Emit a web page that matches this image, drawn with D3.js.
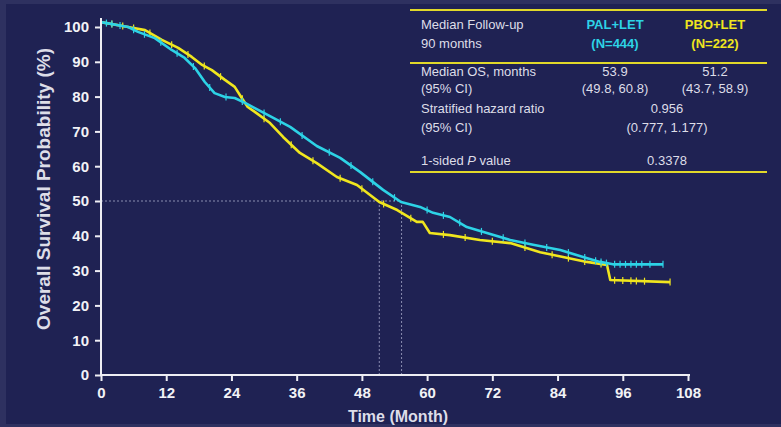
<!DOCTYPE html>
<html>
<head>
<meta charset="utf-8">
<script src="https://cdn.jsdelivr.net/npm/d3@7"></script>
<style>
  body { margin: 0; background: #2e3160; }
  svg { display: block; font-family: "Liberation Sans", Arial, sans-serif; }
</style>
</head>
<body>
<svg id="km" width="781" height="427"></svg>
<script>
// Kaplan-Meier curves: [month, survival %]
const palLet = [
  [0, 101.4], [5.0, 100.0], [6.8, 98.6], [9.9, 96.8], [13.0, 93.4], [15.4, 91.1],
  [17.3, 88.2], [19.1, 84.2], [20.9, 81.0], [22.8, 79.9], [24.6, 79.6], [26.5, 78.2],
  [28.3, 76.7], [31.1, 74.4], [34.8, 71.3], [39.7, 65.8], [44.0, 62.4], [47.7, 58.3],
  [51.9, 53.2], [55.2, 49.7], [58.7, 48.3], [61.1, 46.6], [64.2, 45.4], [67.3, 42.5],
  [71.0, 40.8], [75.3, 38.8], [79.5, 37.4], [84.5, 35.9], [88.7, 33.9], [91.8, 32.5],
  [94.2, 31.8], [103.4, 31.8]
];
const pboLet = [
  [0, 101.4], [5.0, 100.0], [8.1, 99.1], [11.2, 96.3], [14.2, 94.0], [16.7, 91.4],
  [18.6, 89.1], [20.4, 87.6], [22.8, 84.8], [24.6, 82.8], [25.9, 79.6], [27.0, 77.0],
  [28.3, 75.6], [31.1, 72.4], [33.5, 68.4], [36.6, 63.8], [39.7, 60.9], [43.4, 56.9],
  [47.1, 54.6], [51.2, 49.7], [54.5, 47.4], [58.1, 44.0], [59.2, 44.0], [60.5, 40.8],
  [64.2, 40.2], [69.7, 38.8], [75.3, 37.9], [80.8, 35.3], [85.0, 33.9], [89.4, 32.5],
  [93.1, 31.6], [93.7, 27.3], [104.7, 26.7]
];

// censored observations (months)
const palCensor = [1, 2, 3.5, 6, 8, 11, 14, 17, 20, 23, 26, 30, 33, 37, 42, 46, 50, 54,
  60, 63, 66, 70, 74, 78, 82, 86, 89, 91, 92, 93, 94.5, 95.5, 96.5, 97.5, 98.5, 99.5, 101, 103.4];
const pboCensor = [2, 4, 6, 9, 13, 16, 19, 22, 26, 30, 35, 39, 44, 48, 52, 57, 63, 67, 72,
  78, 83, 86, 89, 92, 94.5, 96, 97.5, 98.5, 100, 104.7];

const medians = [51.2, 55.3];

const xTicks = [0, 12, 24, 36, 48, 60, 72, 84, 96, 108];
const yTicks = [0, 10, 20, 30, 40, 50, 60, 70, 80, 90, 100];

// table contents
const tableHead = ["Median Follow-up", "90 months"];
const groups = ["PAL+LET", "PBO+LET"];
const groupN = ["(N=444)", "(N=222)"];
const medianOS = ["53.9", "51.2"];
const medianCI = ["(49.8, 60.8)", "(43.7, 58.9)"];
const hazard = ["0.956", "(0.777, 1.177)"];
const pValue = "0.3378";

const cyan = "#2dd3e6", yellow = "#f0e61e", ink = "#dddde8";

const svg = d3.select("#km");

svg.append("rect")
  .attr("x", 6).attr("y", 4)
  .attr("width", 775).attr("height", 420)
  .attr("fill", "#1f2253");

const x = d3.scaleLinear().domain([0, 108]).range([101, 688]);
const y = d3.scaleLinear().domain([0, 100]).range([375, 27]);

// median guide lines
const guide = svg.append("g")
  .attr("stroke", "#8a8db0")
  .attr("stroke-width", 1)
  .attr("stroke-dasharray", "2,2");
guide.append("line")
  .attr("x1", x(0)).attr("x2", x(d3.max(medians)))
  .attr("y1", y(50)).attr("y2", y(50));
medians.forEach(m => {
  guide.append("line")
    .attr("x1", x(m)).attr("x2", x(m))
    .attr("y1", y(50)).attr("y2", y(0));
});

// curves
const line = d3.line()
  .x(d => x(d[0]))
  .y(d => y(d[1]));

function valueAt(curve, t) {
  let v = curve[0][1];
  for (let i = 1; i < curve.length; i++) {
    if (curve[i][0] <= t) { v = curve[i][1]; continue; }
    const a = curve[i - 1], b = curve[i];
    return a[1] + (b[1] - a[1]) * (t - a[0]) / (b[0] - a[0]);
  }
  return v;
}

[[pboLet, pboCensor, yellow], [palLet, palCensor, cyan]].forEach(([curve, censor, color]) => {
  svg.append("path")
    .datum(curve)
    .attr("fill", "none")
    .attr("stroke", color)
    .attr("stroke-width", 2.6)
    .attr("stroke-linejoin", "round")
    .attr("d", line);

  svg.append("g").selectAll("line")
    .data(censor)
    .join("line")
    .attr("x1", d => x(d)).attr("x2", d => x(d))
    .attr("y1", d => y(valueAt(curve, d)) - 3.5)
    .attr("y2", d => y(valueAt(curve, d)) + 3.5)
    .attr("stroke", color)
    .attr("stroke-width", 1.2);
});

// axes
const xAxis = svg.append("g")
  .attr("transform", `translate(0,${y(0)})`)
  .call(d3.axisBottom(x).tickValues(xTicks).tickSize(6).tickPadding(6));
const yAxis = svg.append("g")
  .attr("transform", `translate(${x(0)},0)`)
  .call(d3.axisLeft(y).tickValues(yTicks).tickSize(6).tickPadding(6));

[xAxis, yAxis].forEach(a => {
  a.select(".domain").remove();
  a.selectAll(".tick line").attr("stroke", "#eeeef4").attr("stroke-width", 2);
  a.selectAll(".tick text")
    .attr("fill", "#f2f2f6")
    .style("font-size", "15px")
    .style("font-weight", "bold")
    .style("font-family", "'Liberation Sans', Arial, sans-serif");
});

svg.append("line")
  .attr("x1", x(0)).attr("x2", 690)
  .attr("y1", y(0)).attr("y2", y(0))
  .attr("stroke", "#eeeef4").attr("stroke-width", 2);
svg.append("line")
  .attr("x1", x(0)).attr("x2", x(0))
  .attr("y1", y(0) + 1).attr("y2", 18)
  .attr("stroke", "#eeeef4").attr("stroke-width", 2);

// axis titles
svg.append("text")
  .attr("x", 398).attr("y", 422)
  .attr("text-anchor", "middle")
  .attr("fill", ink)
  .style("font-size", "16px")
  .style("font-weight", "bold")
  .text("Time (Month)");

svg.append("text")
  .attr("transform", "translate(50,189) rotate(-90)")
  .attr("text-anchor", "middle")
  .attr("fill", ink)
  .style("font-size", "19px")
  .style("font-weight", "bold")
  .text("Overall Survival Probability (%)");

// summary table
const table = svg.append("g").style("font-size", "13px");
[10, 63, 172].forEach(ly => {
  table.append("line")
    .attr("x1", 410).attr("x2", 767)
    .attr("y1", ly).attr("y2", ly)
    .attr("stroke", "#e0d82a").attr("stroke-width", 2);
});

const colX = [615, 715], labelX = 421, midX = 667;

function cell(tx, ty, txt, opts = {}) {
  return table.append("text")
    .attr("x", tx).attr("y", ty)
    .attr("text-anchor", opts.anchor || "start")
    .attr("fill", opts.color || ink)
    .style("font-weight", opts.bold ? "bold" : "normal")
    .text(txt);
}

cell(labelX, 28.5, tableHead[0]);
cell(labelX, 47.5, tableHead[1]);
groups.forEach((g, i) => {
  const c = i === 0 ? cyan : yellow;
  cell(colX[i], 28.5, g, { anchor: "middle", color: c, bold: true });
  cell(colX[i], 47.5, groupN[i], { anchor: "middle", color: c, bold: true });
  cell(colX[i], 75.5, medianOS[i], { anchor: "middle" });
  cell(colX[i], 92.5, medianCI[i], { anchor: "middle" });
});
cell(labelX, 75.5, "Median OS, months");
cell(labelX, 92.5, "(95% CI)");
cell(labelX, 112.5, "Stratified hazard ratio");
cell(labelX, 131.5, "(95% CI)");
cell(midX, 112.5, hazard[0], { anchor: "middle" });
cell(midX, 131.5, hazard[1], { anchor: "middle" });

const pLabel = cell(labelX, 164.5, "1-sided ");
pLabel.append("tspan").style("font-style", "italic").text("P");
pLabel.append("tspan").text(" value");
cell(midX, 164.5, pValue, { anchor: "middle" });
</script>
</body>
</html>
